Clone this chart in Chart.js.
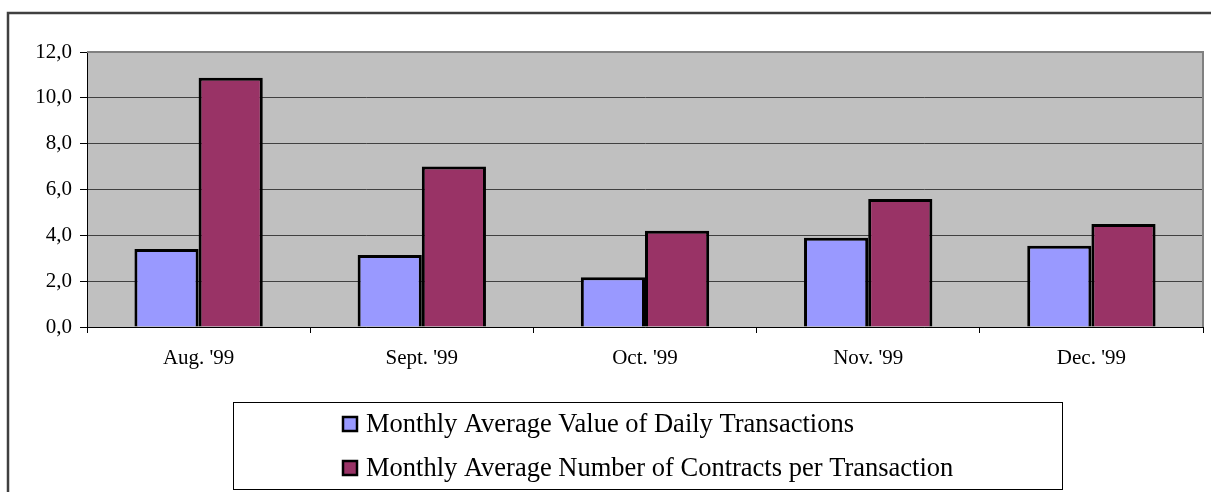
<!DOCTYPE html>
<html>
<head>
<meta charset="utf-8">
<script src="https://cdn.jsdelivr.net/npm/chart.js@4"></script>
<style>
	html,body{margin:0;padding:0;background:#fff}
	#wrap{width:1211px;height:492px;position:relative;overflow:hidden}
</style>
</head>
<body>
<div id="wrap"><canvas id="barChart" width="1211" height="492"></canvas></div>
<script>
var months = ["Aug. '99","Sept. '99","Oct. '99","Nov. '99","Dec. '99"]
var avgValue = [3.4, 3.14, 2.17, 3.9, 3.55]
var avgContracts = [10.88, 7.0, 4.2, 5.59, 4.49]
var seriesNames = ["Monthly Average Value of Daily Transactions","Monthly Average Number of Contracts per Transaction"]
var seriesColors = ["#9999FF","#993366"]
var yTicks = [0,2,4,6,8,10,12]

// gray plot background + frame around the whole thing
const plotBack = {
	id:'plotBack',
	beforeDraw:function(chart){
		var c = chart.ctx, a = chart.chartArea
		c.save()
		c.fillStyle = '#C0C0C0'
		c.fillRect(a.left,a.top,a.right-a.left,a.bottom-a.top)
		c.restore()
	},
	afterDraw:function(chart){
		var c = chart.ctx, a = chart.chartArea
		c.save()
		c.strokeStyle = '#808080'
		c.lineWidth = 2
		c.beginPath()
		c.moveTo(a.left,a.top)
		c.lineTo(a.right,a.top)
		c.lineTo(a.right,a.bottom)
		c.stroke()
		// outer frame (only left and top show)
		c.strokeStyle = '#404040'
		c.lineWidth = 2.5
		c.beginPath()
		c.moveTo(8,492)
		c.lineTo(8,13)
		c.lineTo(1211,13)
		c.stroke()
		c.restore()
	}
}

// boxed legend, one entry per row
const boxLegend = {
	id:'boxLegend',
	afterDraw:function(chart){
		var c = chart.ctx
		c.save()
		c.fillStyle = '#fff'
		c.fillRect(233.5,402.5,829,87)
		c.strokeStyle = '#000'
		c.lineWidth = 1
		c.strokeRect(233.5,402.5,829,87)
		c.font = '26.5px "Liberation Serif", "Times New Roman", serif'
		c.textBaseline = 'middle'
		chart.data.datasets.forEach(function(ds,i){
			var y = 424 + i*44
			c.fillStyle = ds.backgroundColor
			c.fillRect(343,y-7,14,14)
			c.lineWidth = 2.5
			c.strokeStyle = '#000'
			c.strokeRect(343,y-7,14,14)
			c.fillStyle = '#000'
			c.fillText(ds.label,366,y+1)
		})
		c.restore()
	}
}

var datasets = []
var values = [avgValue,avgContracts]
seriesNames.map(function(name,i){
	datasets.push({
		label:name,
		data:values[i],
		backgroundColor:seriesColors[i],
		borderColor:'#000',
		borderWidth:3,
		borderSkipped:'bottom',
		categoryPercentage:0.575,
		barPercentage:1.0
	})
})

new Chart(document.getElementById('barChart'),{
	type:'bar',
	data:{labels:months,datasets:datasets},
	options:{
		responsive:false,
		animation:false,
		devicePixelRatio:1,
		layout:{padding:{top:52,right:8,left:0,bottom:0}},
		plugins:{legend:{display:false},tooltip:{enabled:false}},
		scales:{
			x:{
				afterFit:function(s){s.height = 165},
				grid:{offset:true,drawOnChartArea:false,color:'#000',tickLength:6,tickColor:'#000'},
				border:{color:'#000',width:1},
				ticks:{color:'#000',padding:13,font:{family:'"Liberation Serif"',size:21}}
			},
			y:{
				min:0,max:12,
				afterFit:function(s){s.width = 87},
				afterBuildTicks:function(s){s.ticks = yTicks.map(function(v){return {value:v}})},
				grid:{color:'#404040',lineWidth:1,tickLength:7,tickColor:'#000'},
				border:{color:'#000',width:1},
				ticks:{color:'#000',padding:8,font:{family:'"Liberation Serif"',size:21},
					callback:function(v){return v.toFixed(1).replace('.',',')}}
			}
		}
	},
	plugins:[plotBack,boxLegend]
})
</script>
</body>
</html>
